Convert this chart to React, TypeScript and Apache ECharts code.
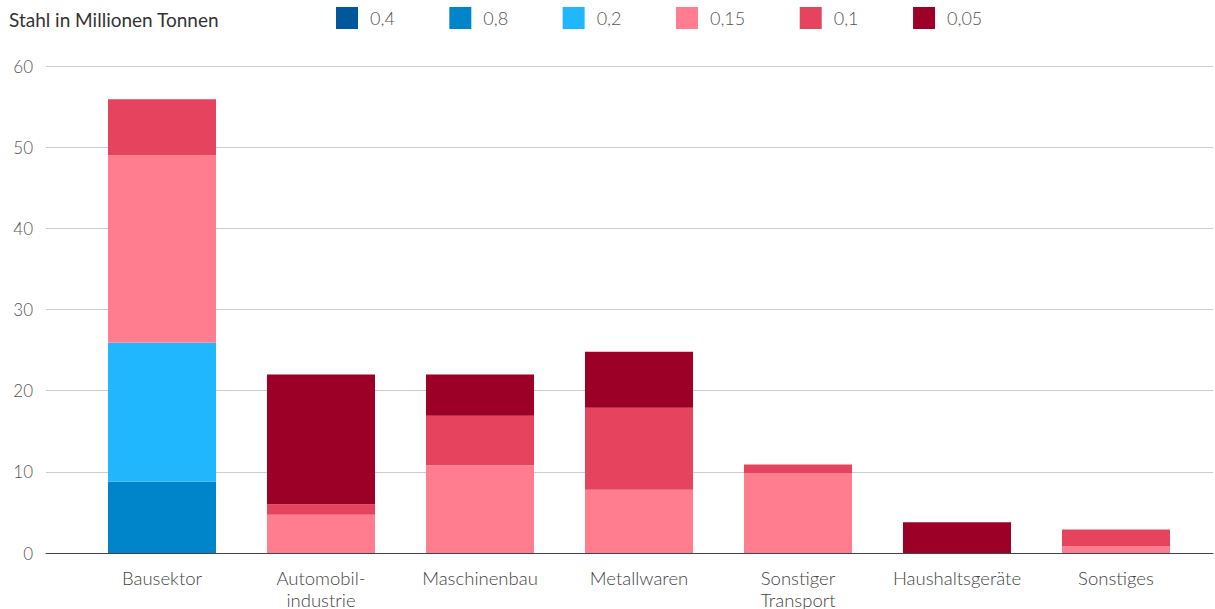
import React, { useEffect, useRef } from "react";
import * as echarts from "echarts";

const categories = [
  "Bausektor",
  "Automobil-\nindustrie",
  "Maschinenbau",
  "Metallwaren",
  "Sonstiger\nTransport",
  "Haushaltsgeräte",
  "Sonstiges",
];
const seriesNames = ["0,4", "0,8", "0,2", "0,15", "0,1", "0,05"];
const s04 = [0, 0, 0, 0, 0, 0, 0];
const s08 = [8.8, 0, 0, 0, 0, 0, 0];
const s02 = [17.1, 0, 0, 0, 0, 0, 0];
const s015 = [23.1, 4.7, 10.8, 7.8, 9.8, 0, 0.8];
const s01 = [6.9, 1.3, 6.1, 10.1, 1.1, 0, 2.1];
const s005 = [0, 16, 5.1, 6.9, 0, 3.8, 0];
const colors = ["#01579B", "#0084CA", "#20B7FF", "#FF7D8E", "#E6445E", "#9C0027"];
const yTicks = { min: 0, max: 60, interval: 10 };

export default function App() {
  const ref = useRef<HTMLDivElement>(null);
  useEffect(() => {
    if (!ref.current) return;
    const chart = echarts.init(ref.current, null, { renderer: "svg" });
    const font = "Lato, 'Open Sans', sans-serif";
    const allData = [s04, s08, s02, s015, s01, s005];
    chart.setOption({
      animation: false,
      color: colors,
      textStyle: { fontFamily: font },
      title: {
        text: "Stahl in Millionen Tonnen",
        left: 9,
        top: 10,
        padding: 0,
        textStyle: { fontSize: 19, fontWeight: "normal", color: "#333", fontFamily: font },
      },
      legend: {
        data: seriesNames,
        left: 336,
        top: 7,
        padding: 0,
        itemWidth: 22,
        itemHeight: 22,
        itemGap: 54.5,
        icon: "rect",
        textStyle: { fontSize: 18, color: "#555", fontWeight: 300, fontFamily: font, padding: [0, 0, 0, 7] },
      },
      grid: [
        { left: 46, right: 2, top: 66, bottom: 56, outerBoundsMode: "none", containLabel: false },
        { left: 82.5, right: 19.5, top: 66, bottom: 56, outerBoundsMode: "none", containLabel: false },
      ],
      xAxis: [
        {
          gridIndex: 0,
          type: "value",
          min: 0,
          max: 1,
          axisLabel: { show: false },
          axisTick: { show: false },
          splitLine: { show: false },
          axisLine: { show: true, lineStyle: { color: "#444", width: 1 } },
        },
        {
          gridIndex: 1,
          type: "category",
          data: categories,
          axisLine: { show: false },
          axisTick: { show: false },
          axisLabel: {
            fontSize: 18.5,
            color: "#444",
            fontWeight: 300,
            fontFamily: font,
            margin: 14,
            lineHeight: 22,
            interval: 0,
          },
        },
      ],
      yAxis: [
        {
          gridIndex: 0,
          type: "value",
          ...yTicks,
          axisLine: { show: false },
          axisTick: { show: false },
          axisLabel: { fontSize: 17, color: "#555", fontWeight: 300, fontFamily: font, margin: 13 },
          splitLine: { lineStyle: { color: "#cccccc", width: 1 } },
        },
        {
          gridIndex: 1,
          type: "value",
          ...yTicks,
          axisLabel: { show: false },
          axisLine: { show: false },
          axisTick: { show: false },
          splitLine: { show: false },
        },
      ],
      series: seriesNames.map((name, i) => ({
        name,
        type: "bar",
        stack: "total",
        xAxisIndex: 1,
        yAxisIndex: 1,
        barWidth: 108,
        data: allData[i],
        itemStyle: { color: colors[i], borderWidth: 0 },
      })),
    });
    return () => chart.dispose();
  }, []);
  return (
    <div
      ref={ref}
      style={{ position: "fixed", left: 0, top: 0, width: 1215, height: 609, background: "#fff" }}
    />
  );
}
